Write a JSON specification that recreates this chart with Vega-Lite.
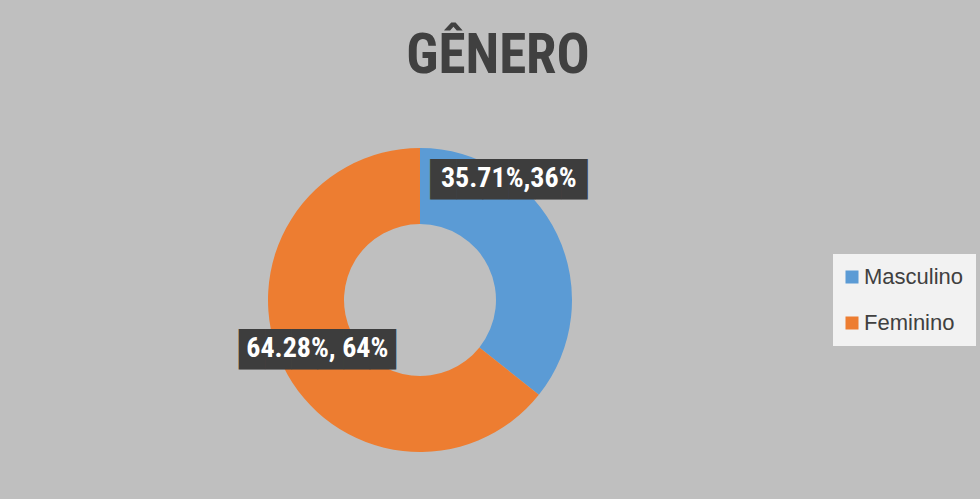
{
  "$schema": "https://vega.github.io/schema/vega-lite/v6.json",
  "width": 840,
  "height": 398,
  "autosize": "none",
  "padding": {"left": 0, "top": 101, "right": 140, "bottom": 0},
  "background": "#bfbfbf",
  "config": {"view": {"stroke": null}},
  "title": {
    "text": "GÊNERO",
    "font": "Roboto Condensed, Liberation Sans",
    "fontSize": 55,
    "fontWeight": "bold",
    "color": "#404040",
    "anchor": "middle",
    "dx": 78,
    "offset": -27,
    "baseline": "alphabetic"
  },
  "data": {
    "values": [
      {"genero": "Masculino", "valor": 35.71, "rotulo": "35.71%,36%"},
      {"genero": "Feminino", "valor": 64.28, "rotulo": "64.28%, 64%"}
    ]
  },
  "encoding": {
    "theta": {"field": "valor", "type": "quantitative", "stack": true},
    "order": {"field": "genero", "sort": "descending"},
    "detail": {"field": "genero"},
    "color": {
      "field": "genero",
      "type": "nominal",
      "scale": {"domain": ["Masculino", "Feminino"], "range": ["#5b9bd5", "#ed7d31"]},
      "legend": {
        "title": null,
        "orient": "none",
        "legendX": 833,
        "legendY": 153,
        "fillColor": "#f2f2f2",
        "padding": 12,
        "symbolType": "square",
        "symbolSize": 169,
        "symbolStrokeWidth": 0,
        "symbolOffset": -4,
        "labelFont": "Liberation Sans",
        "labelFontSize": 22,
        "labelColor": "#404040",
        "labelOffset": 1,
        "rowPadding": 24,
        "labelLimit": 200
      }
    }
  },
  "layer": [
    {"mark": {"type": "arc", "innerRadius": 76, "outerRadius": 152}},
    {
      "mark": {
        "type": "text",
        "radius": 114,
        "font": "DejaVu Sans",
        "fontSize": 34,
        "baseline": "middle",
        "dx": {"expr": "datum.genero === 'Masculino' ? -14 : 0"},
        "dy": {"expr": "datum.genero === 'Masculino' ? -70 : 2"}
      },
      "encoding": {"text": {"value": "██████"}, "color": {"value": "#3d3d3d"}}
    },
    {
      "mark": {
        "type": "text",
        "radius": 114,
        "font": "Roboto Condensed, Liberation Sans",
        "fontSize": 28,
        "fontWeight": "bold",
        "baseline": "middle",
        "dx": {"expr": "datum.genero === 'Masculino' ? -14 : 0"},
        "dy": {"expr": "datum.genero === 'Masculino' ? -72 : 0"}
      },
      "encoding": {"text": {"field": "rotulo"}, "color": {"value": "white"}}
    }
  ]
}
